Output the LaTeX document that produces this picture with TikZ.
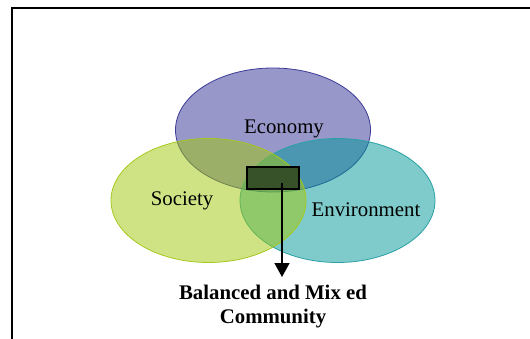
\documentclass[tikz,border=0pt]{standalone}
\usepackage{fontspec}
\setmainfont{Liberation Serif}
\usetikzlibrary{shapes.geometric,arrows.meta}

\definecolor{econfill}{RGB}{50,48,150}
\definecolor{econline}{RGB}{60,60,150}
\definecolor{envfill}{RGB}{0,150,150}
\definecolor{envline}{RGB}{40,160,165}
\definecolor{socfill}{RGB}{160,200,10}
\definecolor{socline}{RGB}{165,200,30}
\definecolor{core}{RGB}{55,82,40}

\begin{document}
\begin{tikzpicture}[x=1pt,y=-1pt,
    sphere/.style={ellipse,minimum width=195pt,minimum height=124pt,inner sep=0pt,
      fill opacity=0.5,line width=0.8pt},
    lbl/.style={font=\fontsize{20.8}{24}\selectfont,inner sep=0pt}]
  \useasboundingbox (0,0) rectangle (530,339);
  \draw[line width=2pt] (530,8) -- (12,8) -- (12,339);

  \node[sphere,draw=econline,fill=econfill] (econ) at (273,130) {};
  \node[sphere,draw=envline,fill=envfill]   (env)  at (337.5,200.5) {};
  \node[sphere,draw=socline,fill=socfill]   (soc)  at (208.5,200.5) {};

  \node[lbl] (econlbl) at (284,129) {Economy};
  \node[lbl] (soclbl)  at (182,201) {Society};
  \node[lbl] (envlbl)  at (366,210) {Environment};

  \node[draw,line width=1.5pt,fill=core,minimum width=52pt,minimum height=22pt,inner sep=0pt]
    (mix) at (273,178) {};
  \node[lbl,font=\fontsize{20.8}{24}\selectfont\bfseries,align=center] (cmty) at (273,307)
    {Balanced and Mix ed\\Community};

  \coordinate (src) at (282,183);
  \coordinate (tip) at (282,277);
  \draw[line width=1.5pt,-{Triangle[width=15pt,length=14pt]}] (src) -- (tip);
\end{tikzpicture}
\end{document}
